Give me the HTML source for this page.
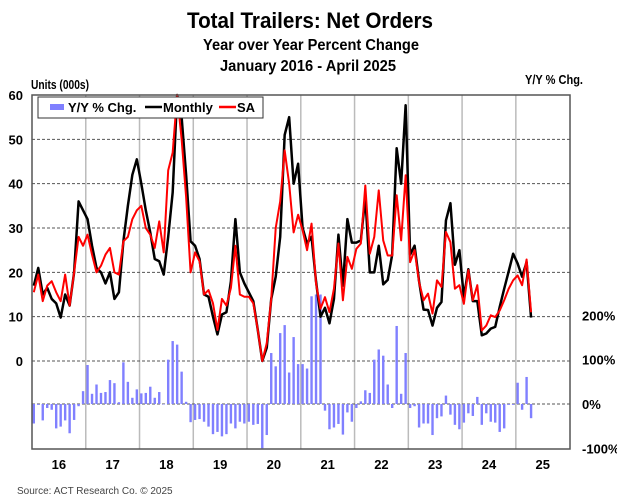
<!DOCTYPE html>
<html><head><meta charset="utf-8"><style>
html,body{margin:0;padding:0;background:#fff;}
svg{display:block;font-family:"Liberation Sans Narrow","Liberation Sans",sans-serif;}
</style></head><body>
<svg id="chart" width="617" height="500" viewBox="0 0 617 500" xmlns="http://www.w3.org/2000/svg">
<rect x="0" y="0" width="617" height="500" fill="#fff"/>
<text x="310" y="28" text-anchor="middle" font-size="22" font-weight="bold" textLength="246" lengthAdjust="spacingAndGlyphs">Total Trailers: Net Orders</text>
<text x="311" y="50" text-anchor="middle" font-size="16" font-weight="bold" textLength="216" lengthAdjust="spacingAndGlyphs">Year over Year Percent Change</text>
<text x="308" y="71" text-anchor="middle" font-size="16" font-weight="bold" textLength="176" lengthAdjust="spacingAndGlyphs">January 2016 - April 2025</text>
<text x="31" y="89" font-size="13" font-weight="bold" textLength="58" lengthAdjust="spacingAndGlyphs">Units (000s)</text>
<text x="583" y="84" text-anchor="end" font-size="13" font-weight="bold" textLength="58" lengthAdjust="spacingAndGlyphs">Y/Y % Chg.</text>
<g id="grid"></g>
<g id="bars"></g>
<g id="lines"></g>
<g id="axes"></g>
<rect x="32" y="95" width="538" height="354" fill="none" stroke="#555" stroke-width="1.5"/>
<g>
<rect x="38" y="97" width="225" height="21" fill="#fff" stroke="#333" stroke-width="1"/>
<rect x="50" y="104" width="14" height="6" fill="#8080ff"/>
<text x="68" y="112" font-size="13" font-weight="bold">Y/Y % Chg.</text>
<line x1="145" y1="107" x2="162" y2="107" stroke="#000" stroke-width="2.5"/>
<text x="163" y="112" font-size="13" font-weight="bold">Monthly</text>
<line x1="219" y1="107" x2="236" y2="107" stroke="#f00" stroke-width="2.5"/>
<text x="237" y="112" font-size="13" font-weight="bold">SA</text>
</g>
<text x="17" y="494" font-size="10" fill="#444">Source: ACT Research Co. © 2025</text>
</svg>
<script>
const years = ["16","17","18","19","20","21","22","23","24","25"];
const leftTicks = [0,10,20,30,40,50,60];
const rightTicks = [-100,0,100,200];
const rightTickLabels = ["-100%","0%","100%","200%"];
const monthly = [17,21,15,16.5,14,13,9.8,15,12.5,20,36,34,
32,26,21,20,17.5,20,14,15.5,27,35,42,45.5,
40,34,29,23,22.5,19.5,28,38,60,55,42,27,
26,23,15,14.5,10,6,10.5,11,18,32,20,17.5,
15.5,13.5,7,0,3,14,19,28,51,55,40,44.5,
30,26.5,28,18,10,12,8.5,14,28.5,17,32,26.7,
26.7,27.2,37,20,20,26,17.3,18.3,24,48,40,57.7,
24,26,18,11.6,11.5,8,12,13.3,31.7,35.6,21.7,25,
14.4,20.7,13.5,13.5,5.8,6.2,7.3,7.7,12.2,16.3,20.2,24.2,
22,19,22.3,9.8];
const sa = [15.5,19.5,13.5,17,18,15.5,13.5,19.5,12.5,20,28,26,
28.5,24,20,21.5,24,25.5,20,19.5,27,28,32,34,
35,30,28.5,25.5,31.5,24.5,43,47,60,50,37,20,
24.5,22.5,15,16,13,7,14,12.5,16.5,26,15,14.5,
14.5,13,7,0,4,14,30,36,47.5,40,29,33,
29.5,25,31,17.5,11.8,14.4,11,16.3,26.5,13.7,23.5,20.8,
25.3,26.5,39.6,24.2,28,38.5,27.2,23.8,23.8,37.4,27.2,41.9,
22.3,25,17.8,13.7,15.2,10.7,18.2,16.7,29.1,26.8,16.3,17.1,
12.9,20.5,13.7,17.1,6.9,8,10.3,9.9,11.4,13.7,16.3,18.2,
19.3,17.1,22.9,11];
const yoy = [-44,-2,-37,-9,-13,-55,-51,-37,-66,-36,-5,29,
88,23,44,25,27,54,47,4,94,50,14,33,
24,25,39,14,27,0,100,142,134,73,5,-41,
-36,-34,-40,-51,-68,-63,-73,-68,-44,-55,-40,-44,
-40,-47,-45,-100,-70,115,85,160,178,71,151,90,
90,80,243,247,247,-15,-57,-53,-45,-69,-19,-40,
-9,6,31,25,100,123,109,44,-9,176,23,115,
-9,-5,-53,-44,-44,-70,-32,-28,19,-24,-47,-57,
-42,-21,-27,16,-47,-21,-40,-42,-63,-55,-2,-2,
48,-13,61,-32];

const NS="http://www.w3.org/2000/svg";
const X0=32, MW=4.48, YT=95, YB=449;
const xM = i => X0 + (i+0.4)*MW;
const yL = v => 361 - v*4.433;        // units
const yR = p => 404 - p*0.4433;       // percent
function mk(tag, attrs, parent){const e=document.createElementNS(NS,tag);for(const k in attrs)e.setAttribute(k,attrs[k]);parent.appendChild(e);return e;}
const grid=document.getElementById('grid'), bars=document.getElementById('bars'), lines=document.getElementById('lines'), axes=document.getElementById('axes');

// vertical year lines
for(let y=1;y<years.length;y++){
  const x=X0+y*12*MW;
  const l=mk('line',{x1:x,y1:YT,x2:x,y2:YB,stroke:'#bbb','stroke-width':1.5},grid);
  
  
}
// horizontal gridlines
leftTicks.forEach(v=>{
  if(v>0 && v<60){
    const l=mk('line',{x1:X0,y1:yL(v),x2:570,y2:yL(v),stroke:'#555','stroke-width':1,'stroke-dasharray':'3,2'},grid);
    
    
  }
  const t=mk('text',{x:23,y:yL(v)+5,'text-anchor':'end','font-size':13,'font-weight':'bold'},axes);
  t.textContent=v;
  
  
});
{
  const l=mk('line',{x1:X0,y1:yL(0),x2:570,y2:yL(0),stroke:'#555','stroke-width':1,'stroke-dasharray':'3,2'},grid);
  
  
  const l2=mk('line',{x1:X0,y1:yR(0),x2:570,y2:yR(0),stroke:'#555','stroke-width':1,'stroke-dasharray':'3,2'},grid);
  
  
}
rightTicks.forEach((p,k)=>{
  const t=mk('text',{x:582,y:yR(p)+5,'font-size':13,'font-weight':'bold'},axes);
  t.textContent=rightTickLabels[k];
  
  
});
years.forEach((yr,k)=>{
  const t=mk('text',{x:X0+(k+0.5)*12*MW,y:469,'text-anchor':'middle','font-size':13,'font-weight':'bold'},axes);
  t.textContent=yr;
  
  
});
// bars
yoy.forEach((p,i)=>{
  const y0=yR(0), y1=yR(Math.max(-100,p));
  const r=mk('rect',{x:xM(i)-1.2,y:Math.min(y0,y1),width:2.4,height:Math.max(0.5,Math.abs(y1-y0)),fill:'#8080ff'},bars);
  
  
});
// lines
function path(arr){return arr.map((v,i)=>(i?'L':'M')+xM(i).toFixed(2)+','+yL(v).toFixed(2)).join(' ');}
const pm=mk('path',{d:path(monthly),fill:'none',stroke:'#000','stroke-width':2.5,'stroke-linejoin':'round'},lines);


const ps=mk('path',{d:path(sa),fill:'none',stroke:'#f00','stroke-width':2,'stroke-linejoin':'round'},lines);


</script>
</body></html>
